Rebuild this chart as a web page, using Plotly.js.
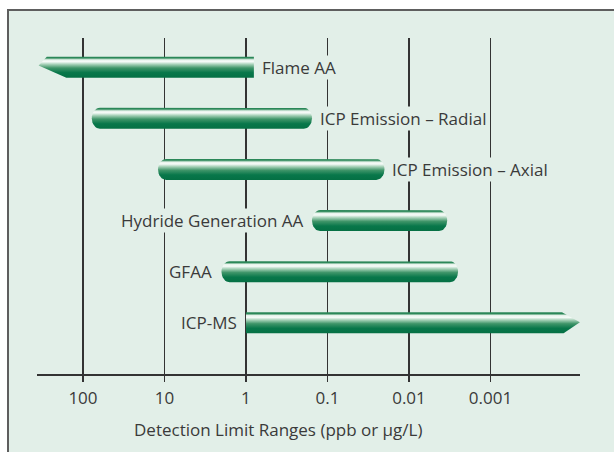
<!DOCTYPE html>
<html>
<head>
<meta charset="utf-8">
<script src="https://cdn.plot.ly/plotly-3.0.1.min.js"></script>
<style>
  html, body { margin: 0; padding: 0; background: #ffffff; width: 614px; height: 452px; overflow: hidden; }
  #frame { position: absolute; left: 7px; top: 9px; width: 607px; height: 443px;
           border-left: 2px solid #5e5e5e; border-top: 2px solid #5e5e5e; background: #e2efe8; }
  #chart { width: 605px; height: 441px; }
</style>
</head>
<body>
<div id="frame"><div id="chart"></div></div>
<script>
// ---- data ----
const techniques = ['Flame AA', 'ICP Emission – Radial', 'ICP Emission – Axial',
                    'Hydride Generation AA', 'GFAA', 'ICP-MS'];
// detection limit range ends, ppb (upper = screen left, lower = screen right)
const upperLimit = [350, 78, 12, 0.155, 2, 1];
const lowerLimit = [0.8, 0.155, 0.02, 0.0034, 0.0025, 0.00008];
// which end continues beyond the range (drawn as an arrow)
const openEnd = ['upper', 'none', 'none', 'none', 'none', 'lower'];
const tickValues = [100, 10, 1, 0.1, 0.01, 0.001];
const tickLabels = ['100', '10', '1', '0.1', '0.01', '0.001'];
const axisTitle = 'Detection Limit Ranges (ppb or µg/L)';

// ---- drawing ----
const BG = '#e2efe8';
const TXT = '#3a3a3a';
const LINE = '#333333';
const FONT = 'Open Sans, sans-serif';
const labelSide = ['right', 'right', 'right', 'left', 'left', 'left'];
const n = techniques.length;
const rowY = techniques.map((_, i) => n - i);
const H = 0.205;      // half bar height (row units)
const RX = 0.1;       // cap radius (decades)
const colors = [
  [0, '#057044'], [0.24, '#08774a'], [0.46, '#3f9569'], [0.63, '#a3cfb5'],
  [0.76, '#f6fbf8'], [0.85, '#e8f3ec'], [0.9, '#80b99a'], [0.94, '#2b8758'], [1, '#2b8758']
];

const traces = [];
const annotations = [];
techniques.forEach((name, i) => {
  const yc = rowY[i];
  const a = Math.log10(upperLimit[i]);   // left (larger value)
  const b = Math.log10(lowerLimit[i]);   // right (smaller value)
  const px = [], py = [];
  const add = (lg, y) => { px.push(Math.pow(10, lg)); py.push(y); };
  if (openEnd[i] === 'upper') {
    add(a - 0.1, yc + H);
  } else if (openEnd[i] === 'lower') {
    add(a, yc + H);
  } else {
    add(a - RX, yc + H);
  }
  if (openEnd[i] === 'lower') {
    add(b + 0.22, yc + H);
    add(b, yc + 0.01);
    add(b + 0.2, yc - H);
  } else if (openEnd[i] === 'upper') {
    add(b, yc + H);
    add(b, yc - H);
  } else {
    const cx = b + RX;
    for (let k = 0; k <= 16; k++) {
      const t = Math.PI / 2 - Math.PI * k / 16;
      add(cx - RX * Math.cos(t), yc + H * Math.sin(t));
    }
  }
  if (openEnd[i] === 'upper') {
    add(a - 0.34, yc - H);
    add(a, yc + 0.03);
    add(a - 0.1, yc + H);
  } else if (openEnd[i] === 'lower') {
    add(a, yc - H);
    add(a, yc + H);
  } else {
    const cx = a - RX;
    for (let k = 0; k <= 16; k++) {
      const t = -Math.PI / 2 + Math.PI * k / 16;
      add(cx + RX * Math.cos(t), yc + H * Math.sin(t));
    }
  }
  traces.push({
    type: 'scatter', mode: 'lines', x: px, y: py, fill: 'toself',
    fillgradient: { type: 'vertical', colorscale: colors },
    line: { width: 0 }, hoverinfo: 'skip', showlegend: false
  });
  const right = labelSide[i] === 'right';
  annotations.push({
    x: right ? b : a, y: yc, xref: 'x', yref: 'y',
    text: name, showarrow: false,
    xanchor: right ? 'left' : 'right', xshift: right ? 7 : -8,
    bgcolor: BG, borderpad: 0,
    font: { family: FONT, size: 17, color: TXT }
  });
});

annotations.push({
  xref: 'paper', yref: 'paper', x: 0.444, y: -0.165,
  xanchor: 'center', yanchor: 'middle', showarrow: false,
  text: axisTitle, font: { family: FONT, size: 17, color: TXT }
});

const layout = {
  width: 605, height: 441,
  margin: { l: 28, r: 34, t: 27, b: 78 },
  paper_bgcolor: BG, plot_bgcolor: BG,
  showlegend: false,
  xaxis: {
    type: 'log', range: [2.564, -4.098], autorange: false,
    tickvals: tickValues, ticktext: tickLabels,
    showgrid: true, gridcolor: LINE, gridwidth: 1.6,
    showline: true, linecolor: LINE, linewidth: 2,
    ticks: 'outside', ticklen: 6, tickwidth: 1.6, tickcolor: LINE,
    ticklabelstandoff: 2,
    tickfont: { family: FONT, size: 17, color: TXT },
    zeroline: false
  },
  yaxis: {
    range: [0, 6.57], autorange: false,
    showgrid: false, zeroline: false, showline: false, showticklabels: false, ticks: ''
  },
  annotations: annotations
};

Plotly.newPlot('chart', traces, layout, { displayModeBar: false, staticPlot: true });
</script>
</body>
</html>
